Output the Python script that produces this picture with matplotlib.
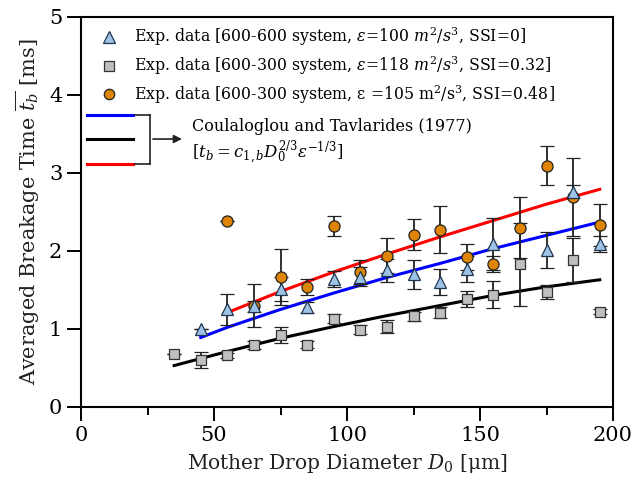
import matplotlib
matplotlib.use("Agg")
import matplotlib.pyplot as plt
from matplotlib.lines import Line2D
from matplotlib.ticker import MultipleLocator

plt.rcParams['font.family'] = ['DejaVu Serif']
plt.rcParams['mathtext.fontset'] = 'dejavuserif'

tri_x = [45, 55, 65, 75, 85, 95, 105, 115, 125, 135, 145, 155, 175, 185, 195]
tri_y = [1.00, 1.25, 1.30, 1.51, 1.28, 1.64, 1.67, 1.75, 1.70, 1.60, 1.77, 2.09, 2.01, 2.76, 2.09]
tri_err = [0, 0.20, 0.27, 0.15, 0.07, 0.10, 0.12, 0.15, 0.19, 0.17, 0.17, 0.33, 0.23, 0.08, 0.10]

sq_x = [35, 45, 55, 65, 75, 85, 95, 105, 115, 125, 135, 145, 155, 165, 175, 185, 195]
sq_y = [0.68, 0.60, 0.66, 0.79, 0.92, 0.80, 1.13, 0.99, 1.03, 1.16, 1.21, 1.38, 1.44, 1.83, 1.47, 1.88, 1.22]
sq_err = [0, 0.10, 0.03, 0.05, 0.10, 0.05, 0.06, 0.06, 0.08, 0.06, 0.07, 0.10, 0.17, 0.53, 0.09, 0.28, 0.03]

circ_x = [55, 65, 75, 85, 95, 105, 115, 125, 135, 145, 155, 165, 175, 185, 195]
circ_y = [2.38, 1.29, 1.67, 1.54, 2.32, 1.73, 1.94, 2.21, 2.27, 1.92, 1.83, 2.30, 3.09, 2.69, 2.33]
circ_err = [0, 0.07, 0.36, 0.10, 0.13, 0.15, 0.22, 0.20, 0.30, 0.17, 0.10, 0.39, 0.25, 0.50, 0.27]

# model curves (Coulaloglou & Tavlarides)
blue_x = [45, 55, 75, 95, 115, 135, 155, 175, 195]
blue_y = [0.89, 1.02, 1.25, 1.46, 1.66, 1.84, 2.03, 2.20, 2.37]
black_x = [35, 55, 75, 95, 115, 135, 155, 175, 195]
black_y = [0.53, 0.71, 0.88, 1.03, 1.17, 1.30, 1.43, 1.54, 1.63]
red_x = [55, 75, 95, 115, 135, 155, 175, 195]
red_y = [1.21, 1.48, 1.73, 1.96, 2.18, 2.39, 2.60, 2.79]

labels = [r"Exp. data [600-600 system, $\varepsilon$=100 $m^2/s^3$, SSI=0]",
          r"Exp. data [600-300 system, $\varepsilon$=118 $m^2/s^3$, SSI=0.32]",
          r"Exp. data [600-300 system, $\mathrm{\varepsilon}$ =105 m$^2$/s$^3$, SSI=0.48]"]

tri_color = '#9DC3E6'
sq_color = '#BFBFBF'
circ_color = '#DE8508'

fig = plt.figure(figsize=(6.35, 4.95), dpi=100)
ax = fig.add_axes([0.1276, 0.178, 0.8378, 0.7877])

ax.plot(black_x, black_y, color='black', lw=2.2, zorder=2)
ax.plot(blue_x, blue_y, color='blue', lw=2.2, zorder=2)
ax.plot(red_x, red_y, color='red', lw=2.2, zorder=2)

eb = dict(ecolor='#222222', elinewidth=1.3, capsize=5, capthick=1.3, linestyle='none', zorder=3)
ax.errorbar(sq_x, sq_y, yerr=sq_err, marker='s', ms=7.5, mfc=sq_color, mec='#333333', mew=0.9, **eb)
ax.errorbar(circ_x, circ_y, yerr=circ_err, marker='o', ms=8, mfc=circ_color, mec='#222222', mew=0.9, **eb)
ax.errorbar(tri_x, tri_y, yerr=tri_err, marker='^', ms=9, mfc=tri_color, mec='#1F3550', mew=0.9, **eb)

ax.set_xlim(0, 200)
ax.set_ylim(0, 5)
ax.xaxis.set_major_locator(MultipleLocator(50))
ax.xaxis.set_minor_locator(MultipleLocator(25))
ax.yaxis.set_major_locator(MultipleLocator(1))
ax.tick_params(which='major', direction='out', length=10, width=1.4, labelsize=15)
ax.tick_params(which='minor', direction='out', length=6, width=1.4)
for s in ax.spines.values():
    s.set_linewidth(1.5)

ax.set_xlabel(r"Mother Drop Diameter $D_0$ [μm]", fontsize=14.5, color='#222222', labelpad=5)
ax.set_ylabel(r"Averaged Breakage Time $\overline{t_b}$ [ms]", fontsize=15, color='#222222', labelpad=5)

# legend for the experimental series
handles = [Line2D([], [], ls='none', marker='^', ms=8, mfc=tri_color, mec='#1F3550', mew=0.9),
           Line2D([], [], ls='none', marker='s', ms=6.5, mfc=sq_color, mec='#333333', mew=0.9),
           Line2D([], [], ls='none', marker='o', ms=7.5, mfc=circ_color, mec='#222222', mew=0.9)]
ax.legend(handles, labels, loc='upper left', bbox_to_anchor=(0.0, 1.01), frameon=False,
          fontsize=11.3, handletextpad=0.6, labelspacing=0.38, borderaxespad=0.4)

# model legend: three line stubs with a bracket and arrow
T = ax.transAxes
for yy, c in [(0.749, 'blue'), (0.687, 'black'), (0.623, 'red')]:
    ax.plot([0.011, 0.098], [yy, yy], color=c, lw=2.2, transform=T, clip_on=False)
for yy in [0.749, 0.623]:
    ax.plot([0.102, 0.130], [yy, yy], color='#222222', lw=1.2, transform=T)
ax.plot([0.130, 0.130], [0.749, 0.623], color='#222222', lw=1.2, transform=T)
ax.annotate('', xy=(0.195, 0.687), xytext=(0.130, 0.687), xycoords=T,
            arrowprops=dict(arrowstyle='-|>', color='#222222', lw=1.2, mutation_scale=12))
ax.text(0.209, 0.718, "Coulaloglou and Tavlarides (1977)", transform=T, fontsize=11.5, va='center')
ax.text(0.209, 0.651, r"$[t_b = c_{1,b}D_0^{2/3}\varepsilon^{-1/3}]$", transform=T, fontsize=12, va='center')

fig.savefig('out.png', dpi=100)
